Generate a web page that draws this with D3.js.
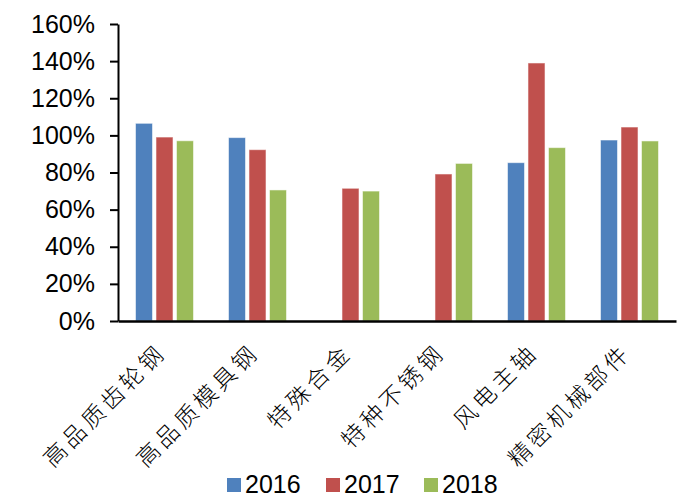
<!DOCTYPE html>
<html>
<head>
<meta charset="utf-8">
<script src="https://cdn.jsdelivr.net/npm/d3@7"></script>
<style>
  html, body { margin: 0; padding: 0; background: #fff; }
  svg { display: block; }
</style>
</head>
<body>
<svg id="chart" width="686" height="495"></svg>
<script>
// Product categories and yearly ratios (%)
const categories = ["高品质齿轮钢", "高品质模具钢", "特殊合金", "特种不锈钢", "风电主轴", "精密机械部件"];
const years = ["2016", "2017", "2018"];
const values2016 = [106.5, 98.8, null, null, 85.3, 97.5];
const values2017 = [99.1, 92.3, 71.5, 79.2, 139.0, 104.5];
const values2018 = [97.1, 70.6, 70.0, 84.9, 93.4, 97.0];
const yTicks = [0, 20, 40, 60, 80, 100, 120, 140, 160];
const colors = ["#4F81BD", "#C0504D", "#9BBB59"];

const seriesValues = [values2016, values2017, values2018];

const svg = d3.select("#chart");
const W = 686, H = 495;
const margin = { top: 24, right: 10, bottom: 174, left: 118 };
const innerW = W - margin.left - margin.right;
const innerH = H - margin.top - margin.bottom;

const g = svg.append("g").attr("transform", `translate(${margin.left},${margin.top})`);

const x0 = d3.scaleBand().domain(categories).range([0, innerW]);
const groupW = 61.5;
const x1 = d3.scaleBand().domain(years).range([-groupW / 2, groupW / 2])
  .paddingInner(0.17).paddingOuter(0.085);
const y = d3.scaleLinear().domain([0, 160]).range([innerH, 0]);
const color = d3.scaleOrdinal().domain(years).range(colors);

// Bars
const rows = [];
categories.forEach((c, i) => {
  years.forEach((yr, k) => {
    const v = seriesValues[k][i];
    if (v != null) rows.push({ cat: c, year: yr, value: v });
  });
});

g.append("g").selectAll("rect").data(rows).join("rect")
  .attr("x", d => x0(d.cat) + x0.bandwidth() / 2 + x1(d.year))
  .attr("y", d => y(d.value))
  .attr("width", x1.bandwidth())
  .attr("height", d => y(0) - y(d.value))
  .attr("fill", d => color(d.year))
  .attr("stroke", "rgba(255,255,255,0.55)")
  .attr("stroke-width", 1);

// Y axis
const yAxis = g.append("g")
  .call(d3.axisLeft(y).tickValues(yTicks).tickFormat(d => d + "%").tickSize(8).tickPadding(15).tickSizeOuter(0));
yAxis.select(".domain").attr("stroke", "#000").attr("stroke-width", 2);
yAxis.selectAll(".tick line").attr("stroke", "#000").attr("stroke-width", 2);
yAxis.selectAll(".tick text")
  .attr("font-family", "Liberation Sans, Arial, sans-serif")
  .attr("font-size", 25)
  .attr("fill", "#000");

// X axis line
const xAxis = g.append("g").attr("transform", `translate(0,${innerH})`)
  .call(d3.axisBottom(x0).tickSize(0).tickSizeOuter(0).tickFormat(""));
xAxis.select(".domain").attr("stroke", "#000").attr("stroke-width", 2.5);

// Rotated category labels
g.append("g").selectAll("text").data(categories).join("text")
  .attr("transform", d => `translate(${x0(d) + x0.bandwidth() / 2 + 3},${innerH + 33}) rotate(-45)`)
  .attr("text-anchor", "end")
  .attr("font-family", "Noto Sans CJK SC, sans-serif")
  .attr("font-weight", 300)
  .attr("font-size", 23)
  .attr("letter-spacing", 4)
  .attr("fill", "#000")
  .text(d => d);

// Legend
const legendItems = [
  { year: "2016", x: 227 },
  { year: "2017", x: 326 },
  { year: "2018", x: 424 }
];
const lg = svg.append("g");
lg.selectAll("rect").data(legendItems).join("rect")
  .attr("x", d => d.x).attr("y", 478).attr("width", 14).attr("height", 14)
  .attr("fill", d => color(d.year));
lg.selectAll("text").data(legendItems).join("text")
  .attr("x", d => d.x + 18).attr("y", 493)
  .attr("font-family", "Liberation Sans, Arial, sans-serif")
  .attr("font-size", 25)
  .attr("fill", "#000")
  .text(d => d.year);
</script>
</body>
</html>
